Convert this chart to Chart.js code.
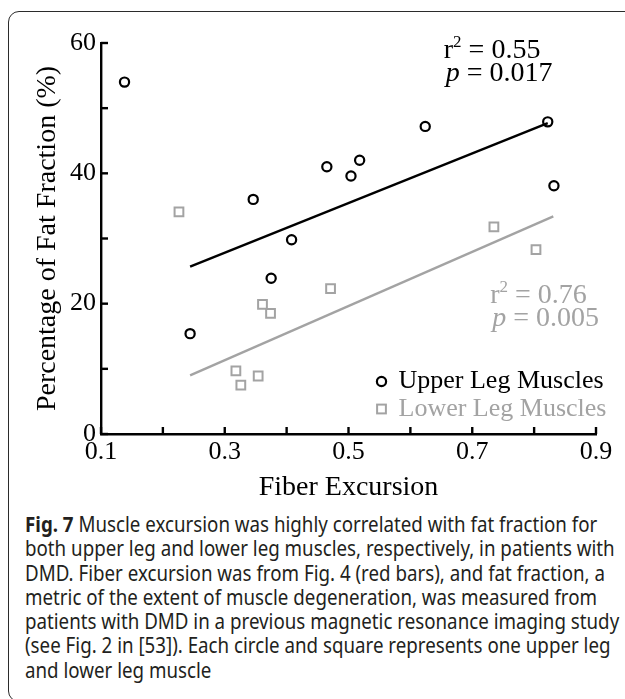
<!DOCTYPE html>
<html>
<head>
<meta charset="utf-8">
<script src="https://cdn.jsdelivr.net/npm/chart.js@4"></script>
<style>
  html, body { margin: 0; padding: 0; background: #fff; }
  body { width: 625px; height: 699px; position: relative; overflow: hidden; }
  #frame {
    position: absolute; left: 8px; top: 11px; width: 680px; height: 689px;
    border: 1.6px solid #2b2b2b; border-radius: 11px;
  }
  #wrap { position: absolute; left: 0; top: 0; width: 625px; height: 505px; }
  #caption {
    position: absolute; left: 25px; top: 512px; width: 700px;
    font-family: "Noto Sans", "Open Sans", sans-serif;
    font-size: 21px; line-height: 24.3px; color: #231f20; white-space: nowrap;
    transform-origin: 0 0; transform: scaleX(0.892);
  }
  #caption b { font-weight: bold; }
</style>
</head>
<body>
<div id="frame"></div>
<div id="wrap"><canvas id="fig7" width="625" height="505"></canvas></div>
<div id="caption">
  <div><b>Fig. 7</b> Muscle excursion was highly correlated with fat fraction for</div>
  <div>both upper leg and lower leg muscles, respectively, in patients with</div>
  <div>DMD. Fiber excursion was from Fig. 4 (red bars), and fat fraction, a</div>
  <div>metric of the extent of muscle degeneration, was measured from</div>
  <div>patients with DMD in a previous magnetic resonance imaging study</div>
  <div>(see Fig. 2 in [53]). Each circle and square represents one upper leg</div>
  <div>and lower leg muscle</div>
</div>
<script>
// upper leg muscles (circles)
const upperX = [0.138, 0.346, 0.408, 0.465, 0.504, 0.518, 0.624, 0.822, 0.832, 0.375, 0.244];
const upperY = [54.0, 36.0, 29.8, 41.0, 39.6, 42.0, 47.2, 47.9, 38.1, 23.9, 15.4];
// lower leg muscles (squares)
const lowerX = [0.226, 0.735, 0.803, 0.471, 0.361, 0.374, 0.318, 0.326, 0.354];
const lowerY = [34.1, 31.8, 28.3, 22.3, 19.9, 18.5, 9.7, 7.5, 8.9];
// regression line end points
const upperFitX = [0.244, 0.822];
const upperFitY = [25.7, 47.7];
const lowerFitX = [0.244, 0.831];
const lowerFitY = [9.0, 33.4];
// stats text
const statR2 = ['0.55', '0.76'];
const statP = ['0.017', '0.005'];
const seriesNames = ['Upper Leg Muscles', 'Lower Leg Muscles'];

const BLACK = '#000000';
const GREY = '#a3a3a3';
const SERIF = '"Liberation Serif", "Times New Roman", serif';

const pts = (xs, ys) => xs.map((v, i) => ({ x: v, y: ys[i] }));

const overlay = {
    id: 'overlay',
    afterDraw(chart) {
        const { ctx, chartArea: a, scales: { x, y } } = chart;
        ctx.save();
        // inward tick marks
        ctx.strokeStyle = BLACK;
        ctx.lineWidth = 2.4;
        x.ticks.forEach(t => {
            const px = x.getPixelForValue(t.value);
            ctx.beginPath(); ctx.moveTo(px, a.bottom); ctx.lineTo(px, a.bottom - 7); ctx.stroke();
        });
        y.ticks.forEach(t => {
            const py = y.getPixelForValue(t.value);
            ctx.beginPath(); ctx.moveTo(a.left, py); ctx.lineTo(a.left + 7, py); ctx.stroke();
        });

        // r^2 / p annotations
        const stat = (i, px, py, color) => {
            ctx.fillStyle = color;
            ctx.textAlign = 'left';
            ctx.textBaseline = 'middle';
            ctx.font = '28px ' + SERIF;
            ctx.fillText('r', px, py);
            let w = ctx.measureText('r').width;
            ctx.font = '17px ' + SERIF;
            ctx.fillText('2', px + w, py - 8);
            w += ctx.measureText('2').width;
            ctx.font = '28px ' + SERIF;
            ctx.fillText(' = ' + statR2[i], px + w, py);
            const py2 = py + 23;
            ctx.font = 'italic 28px ' + SERIF;
            ctx.fillText('p', px + 2, py2);
            const wp = ctx.measureText('p').width;
            ctx.font = '28px ' + SERIF;
            ctx.fillText(' = ' + statP[i], px + 2 + wp, py2);
        };
        stat(0, x.getPixelForValue(0.654), y.getPixelForValue(58.8), BLACK);
        stat(1, x.getPixelForValue(0.729), y.getPixelForValue(21.3), GREY);

        // legend inside plot
        const mx = a.right - 214.5;
        const rows = [a.bottom - 52.5, a.bottom - 25];
        ctx.font = '26px ' + SERIF;
        ctx.textBaseline = 'middle';
        ctx.lineWidth = 2.2;
        ctx.strokeStyle = BLACK;
        ctx.beginPath(); ctx.arc(mx, rows[0], 4.6, 0, Math.PI * 2); ctx.stroke();
        ctx.fillStyle = BLACK;
        ctx.fillText(seriesNames[0], mx + 17, rows[0]);
        ctx.strokeStyle = GREY;
        ctx.lineWidth = 2;
        ctx.strokeRect(mx - 4.4, rows[1] - 4.4, 8.8, 8.8);
        ctx.fillStyle = GREY;
        ctx.fillText(seriesNames[1], mx + 17, rows[1]);
        ctx.restore();
    }
};

new Chart(document.getElementById('fig7'), {
    type: 'scatter',
    data: {
        datasets: [
            {
                label: seriesNames[0],
                data: pts(upperX, upperY),
                pointStyle: 'circle',
                pointRadius: 4.6,
                pointBorderWidth: 2.2,
                borderColor: BLACK,
                backgroundColor: 'rgba(0,0,0,0)'
            },
            {
                label: seriesNames[1],
                data: pts(lowerX, lowerY),
                pointStyle: 'rect',
                pointRadius: 6.2,
                pointBorderWidth: 2,
                borderColor: GREY,
                backgroundColor: 'rgba(0,0,0,0)'
            },
            {
                label: 'upper fit',
                data: pts(upperFitX, upperFitY),
                showLine: true,
                pointRadius: 0,
                borderColor: BLACK,
                borderWidth: 2.4
            },
            {
                label: 'lower fit',
                data: pts(lowerFitX, lowerFitY),
                showLine: true,
                pointRadius: 0,
                borderColor: GREY,
                borderWidth: 2.4
            }
        ]
    },
    options: {
        responsive: false,
        animation: false,
        devicePixelRatio: 1,
        layout: { padding: { top: 43, right: 29, left: 0, bottom: 0 } },
        plugins: {
            legend: { display: false },
            tooltip: { enabled: false }
        },
        scales: {
            x: {
                type: 'linear',
                min: 0.1,
                max: 0.9,
                afterFit: s => { s.height = 71; },
                border: { display: true, color: BLACK, width: 2.4 },
                grid: { display: true, drawOnChartArea: false, drawTicks: false },
                ticks: {
                    stepSize: 0.1,
                    padding: 3,
                    color: BLACK,
                    font: { family: SERIF, size: 26 },
                    maxRotation: 0,
                    autoSkip: false,
                    callback: (v, i) => (i % 2 === 0 ? v.toFixed(1) : '')
                },
                title: {
                    display: true,
                    text: 'Fiber Excursion',
                    color: BLACK,
                    font: { family: SERIF, size: 28 },
                    padding: { top: 0, bottom: 1 }
                }
            },
            y: {
                min: 0,
                max: 60,
                afterFit: s => { s.width = 101; },
                border: { display: true, color: BLACK, width: 2.4 },
                grid: { display: true, drawOnChartArea: false, drawTicks: false },
                ticks: {
                    stepSize: 10,
                    padding: 5,
                    color: BLACK,
                    font: { family: SERIF, size: 26 },
                    autoSkip: false,
                    callback: v => (v % 20 === 0 ? v : '')
                },
                title: {
                    display: true,
                    text: 'Percentage of Fat Fraction (%)',
                    color: BLACK,
                    font: { family: SERIF, size: 28 },
                    padding: { top: 31, bottom: 0 }
                }
            }
        }
    },
    plugins: [overlay]
});
</script>
</body>
</html>
